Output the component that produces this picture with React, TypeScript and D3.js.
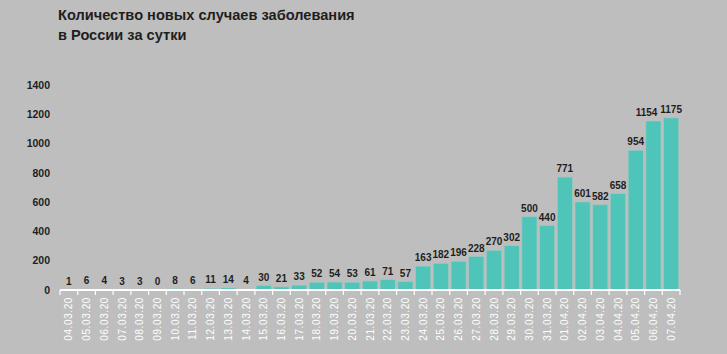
import React, { useEffect, useRef } from 'react';
import * as d3 from 'd3';

// dates and daily new cases
const dates = [
  '04.03.20', '05.03.20', '06.03.20', '07.03.20', '08.03.20', '09.03.20', '10.03.20',
  '11.03.20', '12.03.20', '13.03.20', '14.03.20', '15.03.20', '16.03.20', '17.03.20',
  '18.03.20', '19.03.20', '20.03.20', '21.03.20', '22.03.20', '23.03.20', '24.03.20',
  '25.03.20', '26.03.20', '27.03.20', '28.03.20', '29.03.20', '30.03.20', '31.03.20',
  '01.04.20', '02.04.20', '03.04.20', '04.04.20', '05.04.20', '06.04.20', '07.04.20',
];
const cases = [
  1, 6, 4, 3, 3, 0, 8, 6, 11, 14, 4, 30, 21, 33, 52, 54, 53, 61, 71, 57, 163,
  182, 196, 228, 270, 302, 500, 440, 771, 601, 582, 658, 954, 1154, 1175,
];
const yTicks = [0, 200, 400, 600, 800, 1000, 1200, 1400];
const titleLines = ['Количество новых случаев заболевания', 'в России за сутки'];

const App: React.FC = () => {
  const svgRef = useRef<SVGSVGElement>(null);

  useEffect(() => {
    if (!svgRef.current) return;
    const svg = d3.select(svgRef.current);
    svg.selectAll('*').remove();

    const width = 727;
    const height = 354;
    const font = 'Liberation Sans, Arial, sans-serif';

    svg.append('rect')
      .attr('width', width)
      .attr('height', height)
      .attr('fill', '#bebebe');

    // title
    svg.append('g')
      .selectAll('text')
      .data(titleLines)
      .enter()
      .append('text')
      .attr('x', 58)
      .attr('y', (d, i) => 19.5 + i * 20)
      .style('font-family', font)
      .style('font-size', '14.6px')
      .style('font-weight', 'bold')
      .style('fill', '#1e1e1e')
      .text(d => d);

    const x = d3.scaleBand<string>()
      .domain(dates)
      .range([60, 680])
      .paddingInner(0.15)
      .paddingOuter(0.075);

    const y = d3.scaleLinear()
      .domain([0, 1400])
      .range([290, 85]);

    // y labels
    svg.append('g')
      .selectAll('text')
      .data(yTicks)
      .enter()
      .append('text')
      .attr('x', 50)
      .attr('y', d => y(d))
      .attr('dy', '0.35em')
      .attr('text-anchor', 'end')
      .style('font-family', font)
      .style('font-size', '10.5px')
      .style('font-weight', 'bold')
      .style('fill', '#1e1e1e')
      .text(d => d);

    // bars
    svg.append('g')
      .selectAll('rect')
      .data(cases)
      .enter()
      .append('rect')
      .attr('x', (d, i) => x(dates[i])!)
      .attr('y', d => y(d))
      .attr('width', x.bandwidth())
      .attr('height', d => y(0) - y(d))
      .attr('fill', '#4fc4b9')
      .attr('stroke', '#9ec9c4')
      .attr('stroke-width', 0.6);

    // value labels
    const labels = svg.append('g')
      .selectAll('text')
      .data(cases)
      .enter()
      .append('text')
      .attr('x', (d, i) => x(dates[i])! + x.bandwidth() / 2)
      .attr('y', d => y(d) - 5)
      .attr('text-anchor', 'middle')
      .style('font-family', font)
      .style('font-size', '10px')
      .style('font-weight', 'bold')
      .style('fill', '#1e1e1e')
      .text(d => d);

    // nudge a label left only when it really collides with its right neighbour
    const nodes = labels.nodes() as SVGTextElement[];
    for (let i = nodes.length - 2; i >= 0; i--) {
      const a = nodes[i].getBBox();
      const b = nodes[i + 1].getBBox();
      if (Math.abs(a.y - b.y) < a.height && a.x + a.width > b.x) {
        const shift = a.x + a.width - b.x + 2.5;
        nodes[i].setAttribute('x', String(+nodes[i].getAttribute('x')! - shift));
      }
    }

    // axis line and ticks
    const step = x.step();
    const tickPos = d3.range(dates.length + 1).map(i => 60 + i * step);
    svg.append('line')
      .attr('x1', 60)
      .attr('x2', 680)
      .attr('y1', y(0))
      .attr('y2', y(0))
      .attr('stroke', '#ffffff')
      .attr('stroke-width', 2);
    svg.append('g')
      .selectAll('line')
      .data(tickPos)
      .enter()
      .append('line')
      .attr('x1', d => d)
      .attr('x2', d => d)
      .attr('y1', y(0))
      .attr('y2', y(0) + 5)
      .attr('stroke', '#ffffff')
      .attr('stroke-width', 1.2);

    // rotated date labels
    svg.append('g')
      .selectAll('text')
      .data(dates)
      .enter()
      .append('text')
      .attr('transform', d => `translate(${x(d)! + x.bandwidth() / 2}, 297) rotate(-90)`)
      .attr('dy', '0.35em')
      .attr('text-anchor', 'end')
      .style('font-family', font)
      .style('font-size', '10px')
      .style('letter-spacing', '0.6px')
      .style('fill', '#ffffff')
      .text(d => d);
  }, []);

  return <svg ref={svgRef} width={727} height={354} style={{ display: 'block', position: 'absolute', left: 0, top: 0 }} />;
};

export default App;
